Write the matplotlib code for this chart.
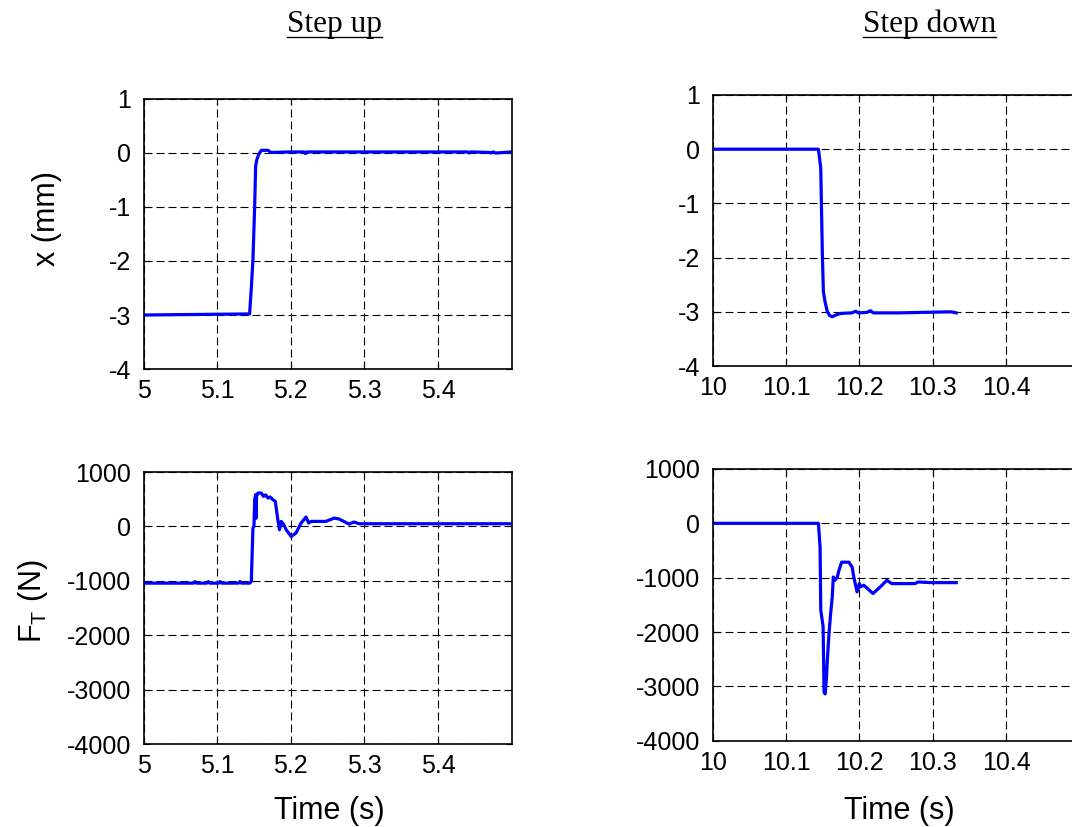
import matplotlib
matplotlib.use("Agg")
import matplotlib.pyplot as plt
from matplotlib.lines import Line2D

plt.rcParams['font.family'] = ['Liberation Sans', 'DejaVu Sans']

# step up, position
t_up_x = [5.0, 5.1441, 5.1464, 5.1486, 5.1509, 5.1523, 5.154, 5.1563, 5.16, 5.169,
          5.173, 5.20, 5.218, 5.22, 5.222, 5.30, 5.40, 5.44, 5.442, 5.444, 5.47,
          5.472, 5.475, 5.478, 5.50]
x_up = [-3.0, -2.98, -2.5, -1.98, -1.01, -0.24, -0.12, -0.03, 0.05, 0.05,
        0.01, 0.02, 0.02, -0.01, 0.02, 0.02, 0.02, 0.02, 0.0, 0.02, 0.01,
        0.0, 0.02, 0.0, 0.02]

# step down, position
t_down_x = [10.0, 10.1441, 10.1473, 10.1495, 10.1509, 10.1532, 10.1563, 10.1595,
            10.163, 10.1676, 10.1743, 10.19, 10.1946, 10.199, 10.2103, 10.2149,
            10.219, 10.253, 10.325, 10.332]
x_down = [0.0, 0.0, -0.35, -1.96, -2.63, -2.82, -3.0, -3.07,
          -3.09, -3.06, -3.03, -3.02, -2.99, -3.02, -3.01, -2.98,
          -3.02, -3.02, -3.0, -3.02]

# step up, force
t_up_f = [5.0, 5.068, 5.07, 5.072, 5.086, 5.088, 5.09, 5.102, 5.104, 5.106,
          5.129, 5.131, 5.133, 5.1441, 5.1464, 5.1486, 5.150, 5.151, 5.1523,
          5.153, 5.1535, 5.1554, 5.16, 5.163, 5.166, 5.169, 5.172, 5.1757,
          5.179, 5.1824, 5.1847, 5.187, 5.1905, 5.1937, 5.2005, 5.207, 5.214,
          5.2207, 5.2243, 5.2275, 5.2477, 5.259, 5.2658, 5.279, 5.286, 5.2928,
          5.50]
f_up = [-1043, -1043, -1015, -1043, -1043, -1015, -1043, -1043, -1015, -1043,
        -1043, -1015, -1043, -1043, -1012, -31, 0, 490, 583,
        150, 560, 613, 613, 552, 580, 521, 540, 490,
        460, 123, -61, 92, 31, -61, -184, -123, 61,
        172, 61, 92, 92, 153, 135, 43, 80, 49,
        49]

# step down, force
t_down_f = [10.0, 10.1441, 10.1464, 10.1473, 10.1505, 10.1518, 10.1532, 10.155,
            10.1563, 10.1586, 10.1608, 10.163, 10.1644, 10.1667, 10.1698,
            10.1721, 10.1757, 10.1856, 10.1901, 10.1923, 10.1968, 10.2, 10.2014,
            10.2059, 10.2185, 10.2284, 10.2374, 10.2441, 10.2757, 10.28, 10.298,
            10.332]
f_down = [0, 0, -442, -1594, -1897, -3109, -3139, -2867,
          -2503, -2018, -1655, -1352, -988, -1048, -988,
          -867, -715, -715, -806, -988, -1261, -1109, -1170,
          -1139, -1291, -1170, -1048, -1109, -1109, -1079, -1091,
          -1091]

W, H = 1072, 827
fig = plt.figure(figsize=(W / 100, H / 100), dpi=100)


def px_axes(left, top, right, bottom):
    return fig.add_axes([left / W, 1 - bottom / H, (right - left) / W, (bottom - top) / H])


def style(ax, xlim, xticks, ylim, yticks):
    ax.set_xlim(xlim)
    ax.set_ylim(ylim)
    ax.set_xticks(xticks)
    ax.set_xticklabels([f'{v:g}' for v in xticks])
    ax.set_yticks(yticks)
    ax.set_yticklabels([f'{v:g}' for v in yticks])
    ax.grid(True, color='black', linestyle=(0, (7.2, 3.6)), linewidth=0.8)
    ax.tick_params(direction='in', length=4, width=0.8, labelsize=18,
                   top=True, right=True)
    ax.tick_params(axis='x', pad=7.5)
    ax.tick_params(axis='y', pad=9)
    for s in ax.spines.values():
        s.set_linewidth(1.2)


ax1 = px_axes(143.5, 99, 511.7, 369)
ax2 = px_axes(712.7, 95, 1079.5, 366)
ax3 = px_axes(143.5, 472, 511.7, 744)
ax4 = px_axes(712.7, 469, 1079.5, 740.7)

blue = '#0000ff'
ax1.plot(t_up_x, x_up, color=blue, lw=2.3)
ax2.plot(t_down_x, x_down, color=blue, lw=2.3)
ax3.plot(t_up_f, f_up, color=blue, lw=2.3)
ax4.plot(t_down_f, f_down, color=blue, lw=2.3)

style(ax1, (5.0, 5.5), [5, 5.1, 5.2, 5.3, 5.4], (-4, 1), [-4, -3, -2, -1, 0, 1])
style(ax2, (10.0, 10.5), [10, 10.1, 10.2, 10.3, 10.4], (-4, 1), [-4, -3, -2, -1, 0, 1])
style(ax3, (5.0, 5.5), [5, 5.1, 5.2, 5.3, 5.4], (-4000, 1000),
      [-4000, -3000, -2000, -1000, 0, 1000])
style(ax4, (10.0, 10.5), [10, 10.1, 10.2, 10.3, 10.4], (-4000, 1000),
      [-4000, -3000, -2000, -1000, 0, 1000])

# axis labels
fig.text(46.7 / W, 1 - 218 / H, 'x (mm)', rotation=90, ha='center', va='center',
         fontsize=22)
fig.text(33.3 / W, 1 - 601 / H, r'F$_{\mathregular{T}}$ (N)', rotation=90,
         ha='center', va='center', fontsize=22)
fig.text(329 / W, 1 - 819 / H, 'Time (s)', ha='center', va='baseline', fontsize=22)
fig.text(899.5 / W, 1 - 819 / H, 'Time (s)', ha='center', va='baseline', fontsize=22)

# column titles, underlined
titles = []
for label, cx in [('Step up', 334.5), ('Step down', 929.5)]:
    titles.append(fig.text(cx / W, 1 - 32 / H, label, ha='center', va='baseline',
                           fontsize=22.5, family=['Liberation Serif', 'DejaVu Serif']))

fig.canvas.draw()
renderer = fig.canvas.get_renderer()
for txt in titles:
    bb = txt.get_window_extent(renderer)
    y = 1 - 36.5 / H
    fig.add_artist(Line2D([bb.x0 / W, bb.x1 / W], [y, y], transform=fig.transFigure,
                          color='black', lw=1.0))

fig.savefig('out.png', dpi=100)
